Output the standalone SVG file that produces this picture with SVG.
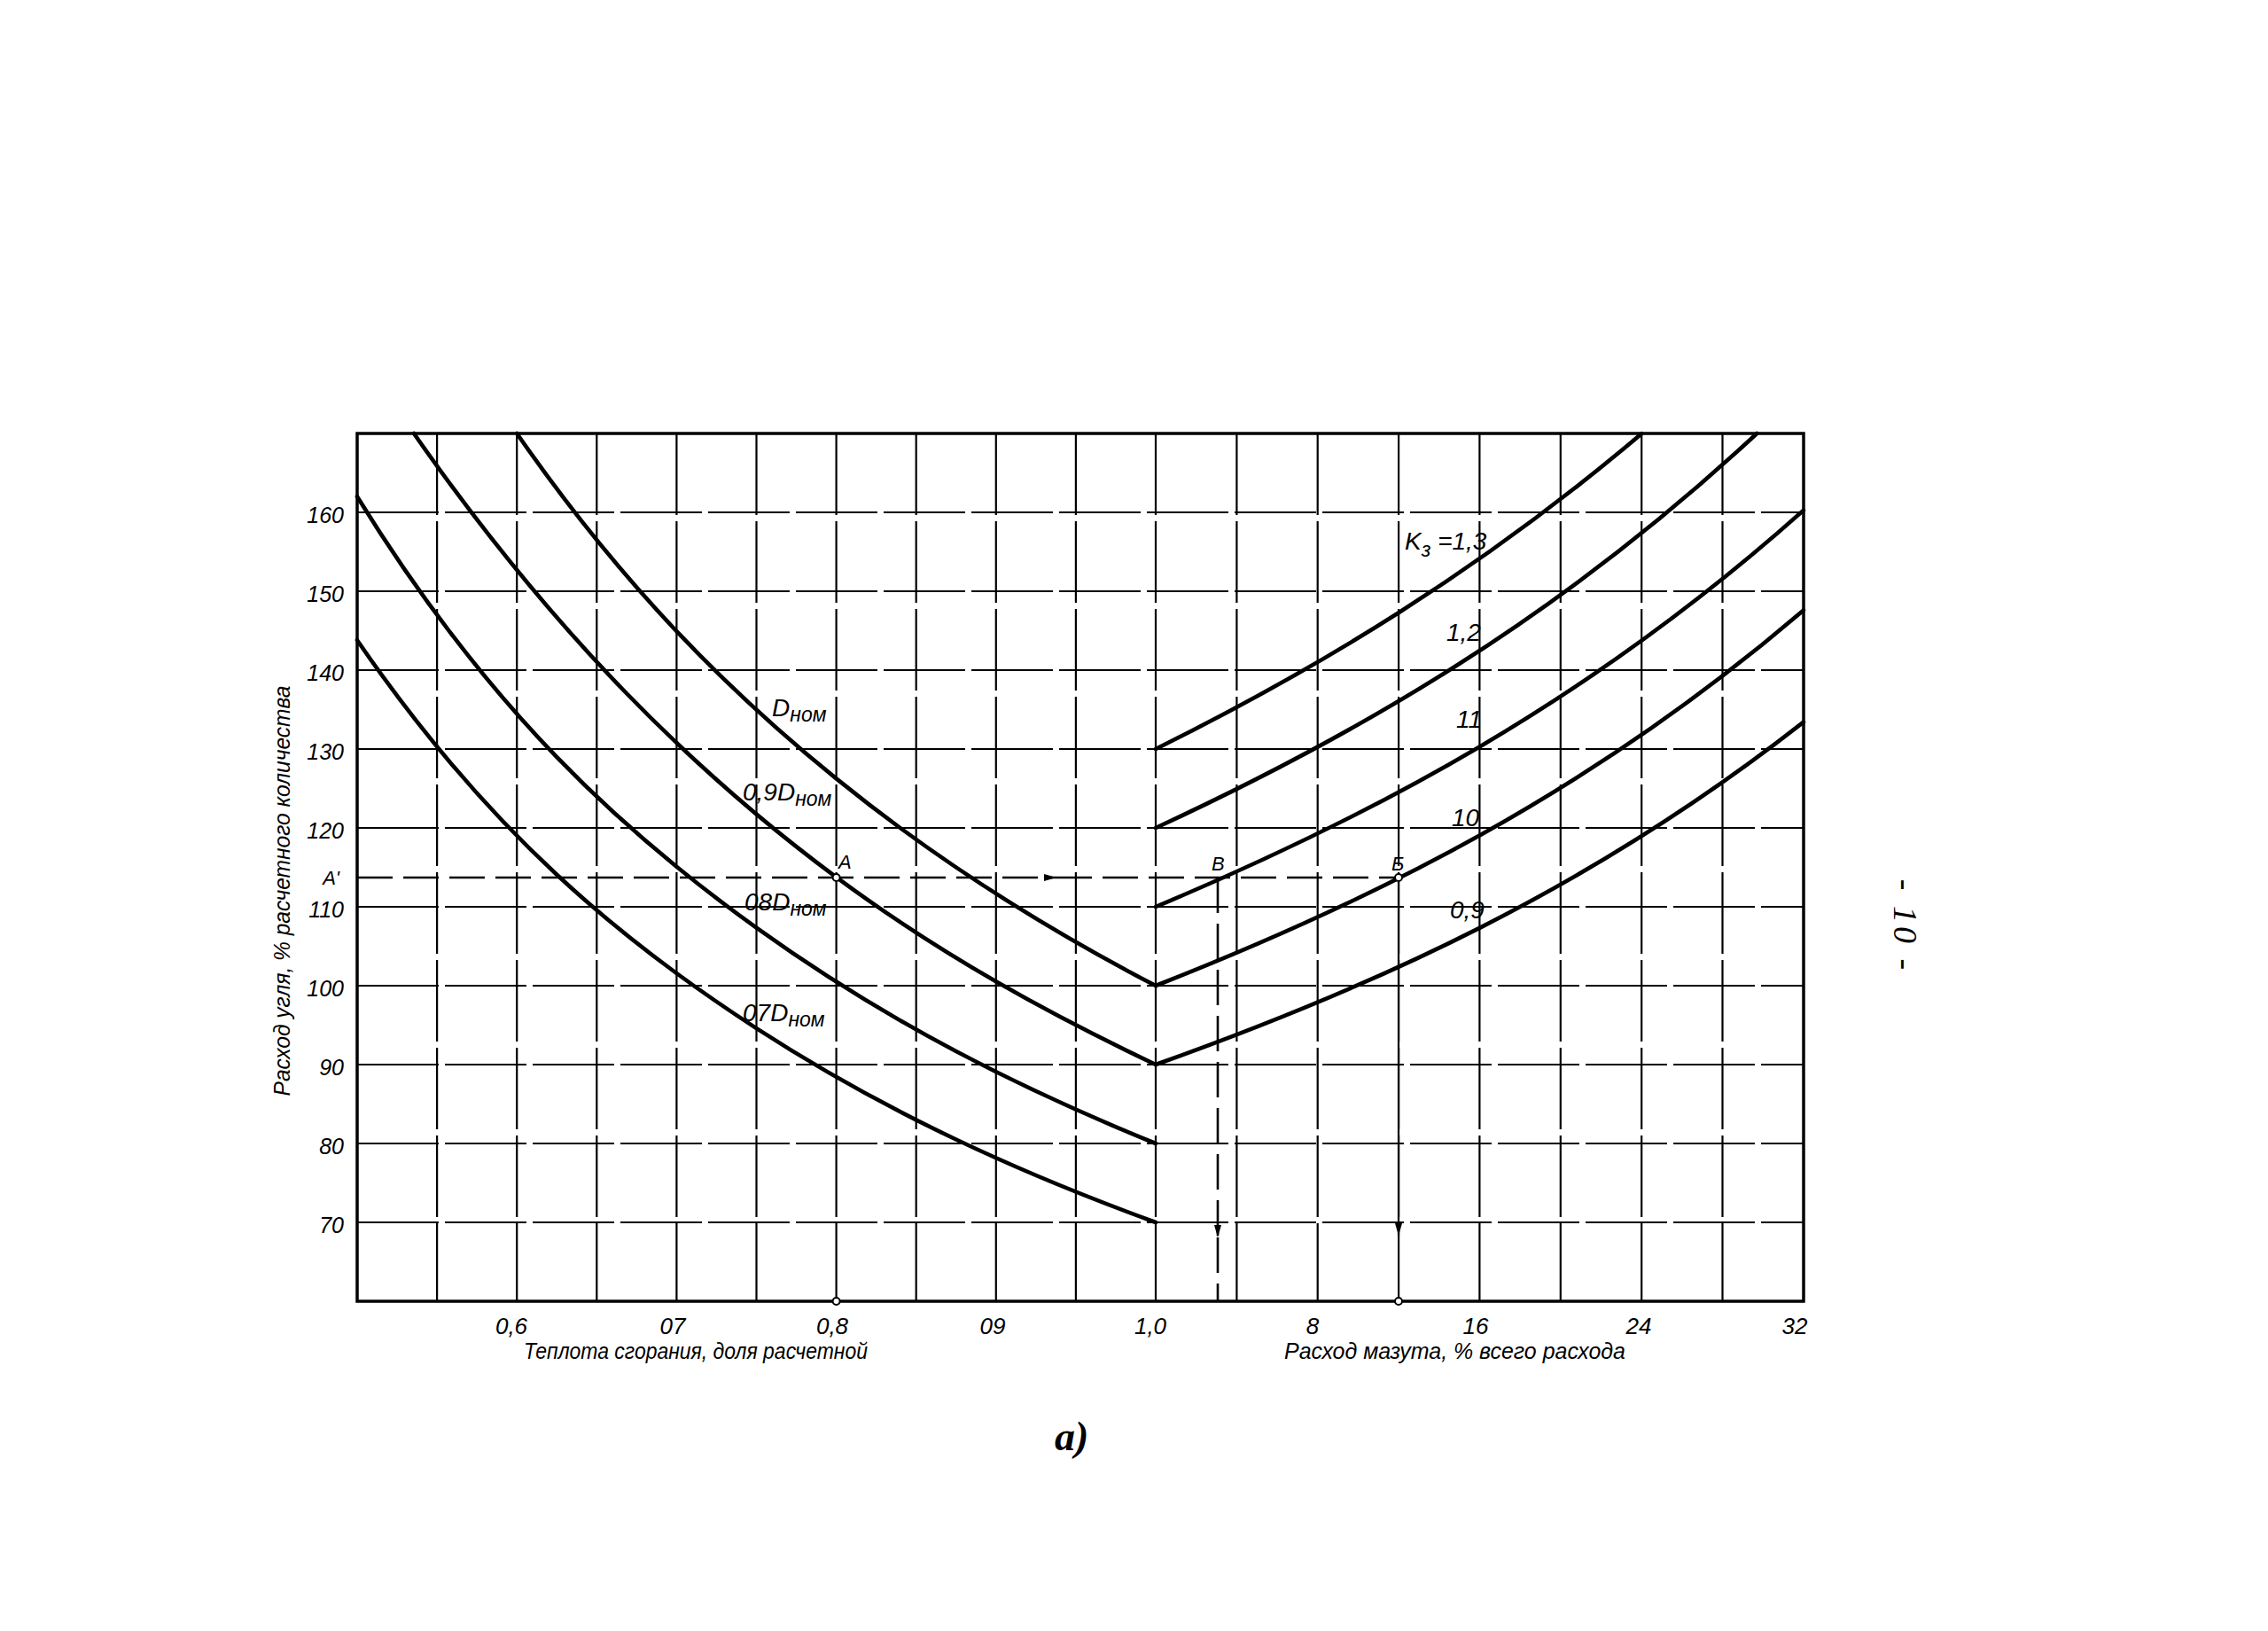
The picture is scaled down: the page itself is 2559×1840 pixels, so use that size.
<svg xmlns="http://www.w3.org/2000/svg" width="2559" height="1840" viewBox="0 0 2559 1840">
<defs>
<style>
.bg{fill:#fff}
.grid{stroke:#000;stroke-width:2.2;fill:none;stroke-dasharray:92 7}
.frame{stroke:#000;stroke-width:3.5;fill:none}
.curve{stroke:#000;stroke-width:4.6;fill:none;stroke-linecap:round}
.dash{stroke:#000;stroke-width:2.6;fill:none;stroke-dasharray:40 12}
.solid{stroke:#000;stroke-width:2.2;fill:none}
.pt{fill:#fff;stroke:#000;stroke-width:2}
text{font-family:"Liberation Sans Narrow","Liberation Sans",Arial,sans-serif;font-style:italic;fill:#000}
.tick{font-size:25px}
.ytick{font-size:25px;text-anchor:end}
.xtick{font-size:26px;text-anchor:middle}
.lbl{font-size:28px}
.sub{font-size:23px}
.pl{font-size:22px}
.title{font-size:26px}
.serif{font-family:"Liberation Serif","Times New Roman",serif}
</style>
<marker id="arr" viewBox="0 0 14 8" refX="14" refY="4" markerWidth="14" markerHeight="8" markerUnits="userSpaceOnUse" orient="auto">
<path d="M0,0 L14,4 L0,8 Z" fill="#000"/>
</marker>
</defs>
<rect class="bg" x="0" y="0" width="2559" height="1840"/>

<g id="grid">
<path class="grid" d="M493.1,489V1468 M583.2,489V1468 M673.3,489V1468 M763.4,489V1468 M853.5,489V1468 M943.6,489V1468 M1033.7,489V1468 M1123.8,489V1468 M1213.9,489V1468 M1304,489V1468 M1395.4,489V1468 M1486.7,489V1468 M1578.1,489V1468 M1669.4,489V1468 M1760.8,489V1468 M1852.2,489V1468 M1943.5,489V1468"/>
<path class="grid" d="M403,578H2035 M403,667H2035 M403,756H2035 M403,845H2035 M403,934H2035 M403,1023H2035 M403,1112H2035 M403,1201H2035 M403,1290H2035 M403,1379H2035"/>
<rect class="frame" x="403" y="489" width="1632" height="979"/>
</g>

<g id="axis-y">
<text class="ytick" x="388" y="590">160</text>
<text class="ytick" x="388" y="679">150</text>
<text class="ytick" x="388" y="768">140</text>
<text class="ytick" x="388" y="857">130</text>
<text class="ytick" x="388" y="946">120</text>
<text class="pl" x="383" y="998" text-anchor="end" font-size="20">A'</text>
<text class="ytick" x="388" y="1035">110</text>
<text class="ytick" x="388" y="1124">100</text>
<text class="ytick" x="388" y="1213">90</text>
<text class="ytick" x="388" y="1302">80</text>
<text class="ytick" x="388" y="1391">70</text>
<text class="title" transform="translate(327,1005) rotate(-90)" text-anchor="middle" textLength="463" lengthAdjust="spacingAndGlyphs">Расход угля, % расчетного количества</text>
</g>

<g id="axis-x">
<text class="xtick" x="577" y="1505">0,6</text>
<text class="xtick" x="759" y="1505">07</text>
<text class="xtick" x="939" y="1505">0,8</text>
<text class="xtick" x="1120" y="1505">09</text>
<text class="xtick" x="1298" y="1505">1,0</text>
<text class="xtick" x="1481" y="1505">8</text>
<text class="xtick" x="1665" y="1505">16</text>
<text class="xtick" x="1849" y="1505">24</text>
<text class="xtick" x="2025" y="1505">32</text>
<text class="title" x="591" y="1533" textLength="388" lengthAdjust="spacingAndGlyphs">Теплота сгорания, доля расчетной</text>
<text class="title" x="1449" y="1533" textLength="385" lengthAdjust="spacingAndGlyphs">Расход мазута, % всего расхода</text>
</g>

<g id="curve-Dnom">
<path class="curve" d="M583.2,489 C703.3,662.1 823.5,781.1 943.6,878.4 C1063.7,975.8 1183.9,1049.7 1304,1112"/>
<text class="lbl" x="871" y="808">D<tspan class="sub" dy="6">ном</tspan></text>
</g>
<g id="curve-09Dnom">
<path class="curve" d="M467,489 C625.9,716.6 784.7,871.9 943.6,989.6 C1063.7,1078.6 1183.9,1144 1304,1201"/>
<text class="lbl" x="838" y="903">0,9D<tspan class="sub" dy="6">ном</tspan></text>
</g>
<g id="curve-08Dnom">
<path class="curve" d="M403,560.2 C553.2,803.5 703.3,938.6 853.5,1046.7 C1003.7,1154.8 1153.8,1229.2 1304,1290"/>
<text class="lbl" x="840" y="1027">08D<tspan class="sub" dy="6">ном</tspan></text>
</g>
<g id="curve-07Dnom">
<path class="curve" d="M403,722.2 C553.2,941.1 703.3,1062.8 853.5,1160.1 C1003.7,1257.4 1153.8,1324.3 1304,1379"/>
<text class="lbl" x="838" y="1152">07D<tspan class="sub" dy="6">ном</tspan></text>
</g>

<g id="line-K13">
<path class="curve" d="M1304,845 C1486.7,754.3 1669.5,644.3 1852.2,489.2"/>
<text class="lbl" x="1585" y="620">K<tspan class="sub" dy="8">з</tspan><tspan dy="-8"> =1,3</tspan></text>
</g>
<g id="line-K12">
<path class="curve" d="M1304,934 C1530.1,829.3 1756.2,699.1 1982.3,489"/>
<text class="lbl" x="1632" y="723">1,2</text>
</g>
<g id="line-K11">
<path class="curve" d="M1304,1023 C1547.6,920.7 1791.3,792.9 2034.9,575.7"/>
<text class="lbl" x="1643" y="821">11</text>
</g>
<g id="line-K10">
<path class="curve" d="M1304,1112 C1547.6,1016.3 1791.3,896.9 2034.9,688.4"/>
<text class="lbl" x="1638" y="932">10</text>
</g>
<g id="line-K09">
<path class="curve" d="M1304,1201 C1547.6,1114.1 1791.3,1005.6 2034.9,814.6"/>
<text class="lbl" x="1636" y="1036">0,9</text>
</g>

<g id="connectors">
<path class="dash" d="M403,990 H1192" marker-end="url(#arr)"/>
<path class="dash" d="M1192,990 H1578"/>
<path class="dash" d="M1374,990 V1396" marker-end="url(#arr)"/>
<path class="dash" d="M1374,1396 V1468"/>
<path class="solid" d="M1578,990 V1394" marker-end="url(#arr)"/>
</g>

<g id="points">
<circle class="pt" cx="943.6" cy="990" r="4"/>
<circle class="pt" cx="1578" cy="990" r="4"/>
<circle class="pt" cx="943.6" cy="1468" r="4"/>
<circle class="pt" cx="1578" cy="1468" r="4"/>
<text class="pl" x="946" y="980">A</text>
<text class="pl" x="1367" y="982">В</text>
<text class="pl" x="1570" y="982">Б</text>
</g>

<text class="serif" x="1190" y="1636" font-size="46" font-weight="bold">а)</text>
<text class="serif" transform="translate(2137,1045) rotate(90)" text-anchor="middle" font-size="38" font-style="normal" letter-spacing="4">- 10 -</text>
</svg>
